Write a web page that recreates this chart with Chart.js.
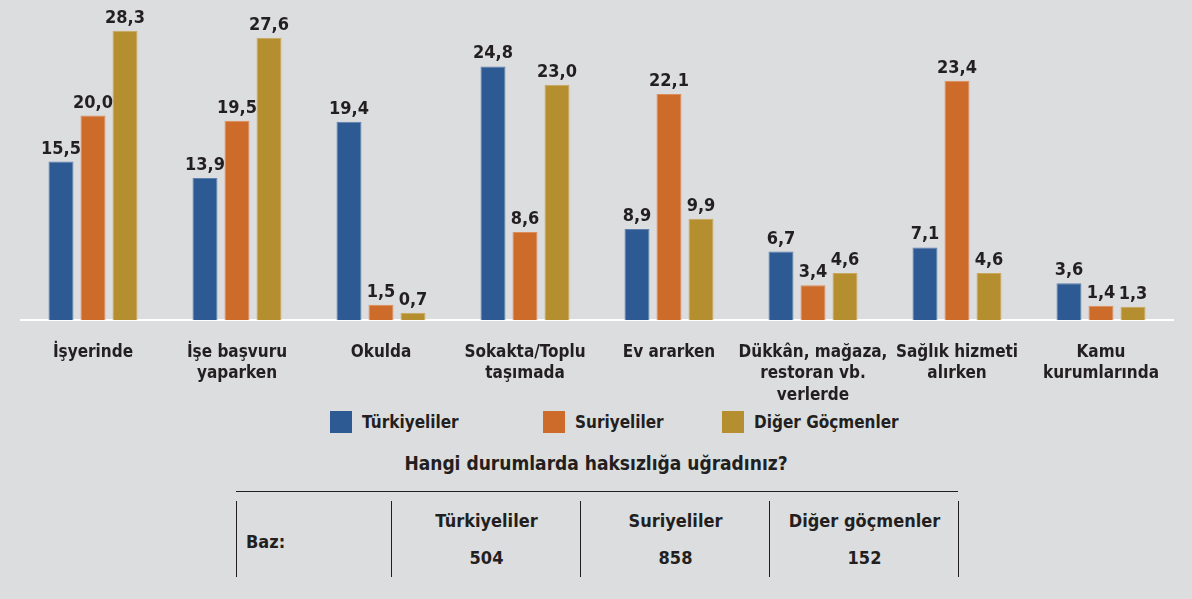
<!DOCTYPE html>
<html lang="tr">
<head>
<meta charset="utf-8">
<script src="https://cdn.jsdelivr.net/npm/chart.js@4"></script>
<style>
	html, body { margin: 0; padding: 0; background: #dcdddf; }
	body { width: 1192px; height: 599px; position: relative; overflow: hidden;
		font-family: "DejaVu Sans Condensed", "DejaVu Sans", sans-serif; font-weight: bold; color: #231f20; }
	#wrap { position: absolute; left: 0; top: 0; width: 1192px; height: 400px; }
	#legend { position: absolute; top: 411px; left: 0; width: 1192px; height: 24px; }
	.item { position: absolute; top: 0; display: flex; align-items: center; font-size: 17px; }
	.box { width: 22px; height: 22px; margin-right: 10px; }
	#title { position: absolute; top: 452px; left: 0; width: 1192px; text-align: center; font-size: 19px; }
	#baz { position: absolute; left: 236px; top: 491px; width: 722px; border-top: 1.5px solid #231f20; }
	.col { position: absolute; top: 9px; height: 76px; border-left: 1px solid #231f20; }
	.head, .num { position: absolute; left: 0; right: 0; text-align: center; font-size: 18px; }
	.head { top: 9px; }
	.num { top: 46px; }
	#bazLabel { position: absolute; left: 10px; top: 39px; font-size: 18px; }
</style>
</head>
<body>
<div id="wrap"><canvas id="chart"></canvas></div>
<div id="legend"></div>
<div id="title">Hangi durumlarda haksızlığa uğradınız?</div>
<div id="baz"></div>
<script>
"use strict";

const categories = [
	["İşyerinde"],
	["İşe başvuru", "yaparken"],
	["Okulda"],
	["Sokakta/Toplu", "taşımada"],
	["Ev ararken"],
	["Dükkân, mağaza,", "restoran vb.", "yerlerde"],
	["Sağlık hizmeti", "alırken"],
	["Kamu", "kurumlarında"],
];
const seriesNames = ["Türkiyeliler", "Suriyeliler", "Diğer Göçmenler"];
const turkiyeliler = [15.5, 13.9, 19.4, 24.8, 8.9, 6.7, 7.1, 3.6];
const suriyeliler = [20.0, 19.5, 1.5, 8.6, 22.1, 3.4, 23.4, 1.4];
const digerGocmenler = [28.3, 27.6, 0.7, 23.0, 9.9, 4.6, 4.6, 1.3];
const bazHeads = ["Türkiyeliler", "Suriyeliler", "Diğer göçmenler"];
const bazCounts = [504, 858, 152];

const FONT = "'DejaVu Sans Condensed', 'DejaVu Sans', sans-serif";
const INK = "#231f20";
const fills = ["#2d5a92", "#cd6b2a", "#b58f2f"];
const edges = ["#5b7fae", "#dc8c58", "#c9a85a"];

// numbers over each bar, Turkish decimal comma
const valueLabels = {
	id: "valueLabels",
	afterDatasetsDraw(chart) {
		const ctx = chart.ctx;
		ctx.save();
		ctx.font = "bold 18px " + FONT;
		ctx.fillStyle = INK;
		ctx.textAlign = "center";
		ctx.textBaseline = "alphabetic";
		chart.data.datasets.forEach((ds, i) => {
			chart.getDatasetMeta(i).data.forEach((bar, j) => {
				ctx.fillText(ds.data[j].toFixed(1).replace(".", ","), bar.x, bar.y - 8);
			});
		});
		ctx.restore();
	},
};

const chart = new Chart(document.getElementById("chart"), {
	type: "bar",
	data: {
		labels: categories,
		datasets: [turkiyeliler, suriyeliler, digerGocmenler].map((data, i) => ({
			label: seriesNames[i],
			data,
			backgroundColor: fills[i],
			borderColor: edges[i],
			borderWidth: 1,
			categoryPercentage: 0.667,
			barPercentage: 0.78,
		})),
	},
	options: {
		responsive: true,
		maintainAspectRatio: false,
		animation: false,
		layout: { padding: { left: 21, right: 19, top: 0, bottom: 0 } },
		plugins: { legend: { display: false }, tooltip: { enabled: false } },
		scales: {
			x: {
				grid: { display: false, drawTicks: false },
				border: { display: true, color: "#ffffff", width: 2 },
				ticks: {
					color: INK,
					padding: 22,
					maxRotation: 0,
					autoSkip: false,
					font: { family: FONT, size: 17, weight: "bold", lineHeight: 1.25 },
				},
				afterFit(scale) {
					scale.height = 80;
				},
			},
			y: { display: false, min: 0, max: 31.3 },
		},
	},
	plugins: [valueLabels],
});

// legend built from the chart's own datasets
(function legend() {
	const el = document.getElementById("legend");
	const lefts = [330, 543, 722];
	chart.data.datasets.forEach((ds, i) => {
		const item = document.createElement("div");
		item.className = "item";
		item.style.left = lefts[i] + "px";
		item.innerHTML = '<span class="box" style="background:' + ds.backgroundColor + '"></span>' + ds.label;
		el.appendChild(item);
	});
})();

// base counts table
(function baz() {
	const el = document.getElementById("baz");
	const label = document.createElement("div");
	label.id = "bazLabel";
	label.textContent = "Baz:";
	el.appendChild(label);
	const edgesX = [0, 155, 344, 533, 722];
	edgesX.forEach((x, k) => {
		const col = document.createElement("div");
		col.className = "col";
		col.style.left = x + "px";
		if (k >= 1 && k <= 3) {
			col.style.width = edgesX[k + 1] - x + "px";
			col.innerHTML = '<div class="head">' + bazHeads[k - 1] + '</div><div class="num">' + bazCounts[k - 1] + "</div>";
		}
		el.appendChild(col);
	});
})();
</script>
</body>
</html>
